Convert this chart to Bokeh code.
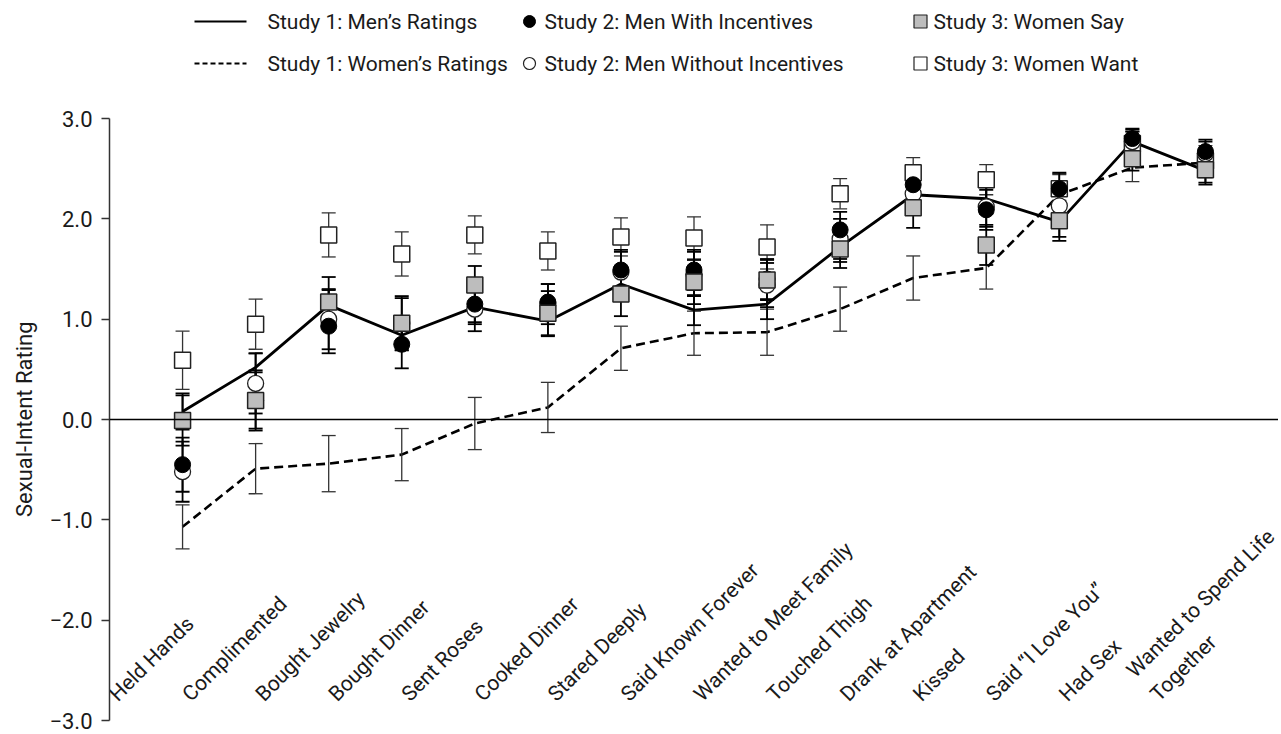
import numpy as np
from bokeh.plotting import figure
from bokeh.models import Range1d, FixedTicker, Span, ColumnDataSource, Title
from bokeh.embed import file_html
from bokeh.resources import INLINE
from bokeh.core.properties import value

# ---------------- data ----------------
categories = ["Held Hands", "Complimented", "Bought Jewelry", "Bought Dinner",
              "Sent Roses", "Cooked Dinner", "Stared Deeply", "Said Known Forever",
              "Wanted to Meet Family", "Touched Thigh", "Drank at Apartment",
              "Kissed", "Said \u201cI Love You\u201d", "Had Sex",
              "Wanted to Spend Life\nTogether"]

tick_values = [-3, -2, -1, 0, 1, 2, 3]
tick_labels = ["\u22123.0", "\u22122.0", "\u22121.0", "0.0", "1.0", "2.0", "3.0"]

men1 = [0.08, 0.52, 1.14, 0.84, 1.12, 0.98, 1.35, 1.09, 1.15, 1.72, 2.24, 2.20, 1.97, 2.77, 2.48]
men1_err = [0.18, 0.14, 0.15, 0.15, 0.15, 0.15, 0.15, 0.15, 0.15, 0.15, 0.15, 0.15, 0.15, 0.12, 0.12]

women1 = [-1.07, -0.49, -0.44, -0.35, -0.04, 0.12, 0.71, 0.86, 0.87, 1.10, 1.41, 1.51, 2.24, 2.51, 2.56]
women1_err = [0.22, 0.25, 0.28, 0.26, 0.26, 0.25, 0.22, 0.22, 0.23, 0.22, 0.22, 0.21, 0.20, 0.14, 0.15]

men2_inc = [-0.45, 0.19, 0.93, 0.75, 1.15, 1.17, 1.49, 1.49, 1.40, 1.89, 2.34, 2.09, 2.30, 2.80, 2.67]
men2_inc_err = [0.27, 0.30, 0.27, 0.24, 0.20, 0.18, 0.20, 0.20, 0.20, 0.18, 0.18, 0.20, 0.16, 0.10, 0.12]

men2_no = [-0.52, 0.36, 1.00, 0.96, 1.10, 1.15, 1.47, 1.45, 1.34, 1.80, 2.25, 2.12, 2.13, 2.77, 2.65]
men2_no_err = [0.30, 0.30, 0.30, 0.27, 0.22, 0.20, 0.20, 0.22, 0.22, 0.20, 0.18, 0.20, 0.18, 0.10, 0.12]

women3_say = [-0.01, 0.19, 1.17, 0.96, 1.34, 1.06, 1.25, 1.37, 1.39, 1.70, 2.11, 1.74, 1.98, 2.60, 2.49]
women3_say_err = [0.25, 0.28, 0.25, 0.25, 0.19, 0.22, 0.22, 0.22, 0.20, 0.19, 0.20, 0.20, 0.20, 0.12, 0.15]

women3_want = [0.59, 0.95, 1.84, 1.65, 1.84, 1.68, 1.82, 1.81, 1.72, 2.25, 2.46, 2.39, 2.30, 2.75, 2.58]
women3_want_err = [0.29, 0.25, 0.22, 0.22, 0.19, 0.19, 0.19, 0.21, 0.22, 0.15, 0.15, 0.15, 0.15, 0.12, 0.15]

legend_labels = ["Study 1: Men\u2019s Ratings", "Study 2: Men With Incentives", "Study 3: Women Say",
                 "Study 1: Women\u2019s Ratings", "Study 2: Men Without Incentives", "Study 3: Women Want"]

y_title = "Sexual-Intent Rating"

# ---------------- style ----------------
FONT = "Roboto"
FS = "21px"
GRAY = "#bdbdbd"
INK = "#1a1a1a"

FRAME_LEFT, FRAME_TOP = 108, 8      # page px of the frame's top-left corner
FRAME_W, FRAME_H = 1169, 720
X0, X1 = 0, 16
SY = 602 / 6.0                      # px per rating unit
Y1 = 3 + (118 - FRAME_TOP) / SY
Y0 = Y1 - FRAME_H / SY

p = figure(frame_width=FRAME_W, frame_height=FRAME_H,
           x_range=Range1d(X0, X1), y_range=Range1d(Y0, Y1),
           min_border_left=FRAME_LEFT, min_border_right=0,
           min_border_top=FRAME_TOP, min_border_bottom=6,
           toolbar_location=None, output_backend="svg", x_axis_location=None)
p.outline_line_color = None
p.xgrid.visible = False
p.ygrid.visible = False
p.background_fill_color = "white"

ax = p.yaxis[0]
ax.ticker = FixedTicker(ticks=tick_values)
ax.bounds = (min(tick_values), max(tick_values))
ax.major_label_overrides = dict(zip(tick_values, tick_labels))
ax.major_tick_out = 8
ax.major_tick_in = 0
ax.minor_tick_out = 0
ax.minor_tick_in = 0
ax.axis_line_width = 1.5
ax.axis_line_color = "#333333"
ax.major_tick_line_width = 1.5
ax.major_tick_line_color = "#333333"
ax.major_label_text_font = FONT
ax.major_label_text_font_size = "22px"
ax.major_label_text_color = INK
ax.major_label_standoff = 9

# axis title centred on the -3..3 axis span rather than on the whole frame
TITLE_LEN = 195                      # approx. rendered length of the title, px
axis_mid_px = 118 + 602 / 2
frame_bottom_px = FRAME_TOP + FRAME_H
p.add_layout(Title(text=y_title, align="left",
                   offset=frame_bottom_px - (axis_mid_px + TITLE_LEN / 2),
                   text_font=FONT, text_font_size="22px", text_font_style="normal",
                   text_color=INK, standoff=19), "left")

p.add_layout(Span(location=0, dimension="width", line_color="black", line_width=1.5))

xs = np.arange(1, len(categories) + 1)

# lines
p.line(xs, men1, line_color="black", line_width=2.8)
p.line(xs, women1, line_color="black", line_width=2.6, line_dash="9 5")

# error bars
def errbars(vals, errs, lw, color):
    v = np.array(vals); e = np.array(errs)
    lo, hi = v - e, v + e
    p.segment(x0=xs, y0=lo, x1=xs, y1=hi, line_color=color, line_width=lw)
    p.scatter(np.concatenate([xs, xs]), np.concatenate([lo, hi]), marker="dash",
              size=14, line_color=color, line_width=lw)

errbars(women3_want, women3_want_err, 1.3, "#333333")
errbars(women1, women1_err, 1.3, "#333333")
errbars(men2_no, men2_no_err, 1.8, "black")
errbars(men2_inc, men2_inc_err, 1.8, "black")
errbars(women3_say, women3_say_err, 1.8, "black")
errbars(men1, men1_err, 1.8, "black")

# markers
p.scatter(xs, women3_want, marker="square", size=16, fill_color="white", line_color="#222222", line_width=1.5)
p.scatter(xs, men2_no, marker="circle", size=16, fill_color="white", line_color="#222222", line_width=1.3)
p.scatter(xs, men2_inc, marker="circle", size=16, fill_color="black", line_color="black", line_width=1)
p.scatter(xs, women3_say, marker="square", size=16, fill_color=GRAY, line_color="#222222", line_width=1.5)

# category labels (rotated 45 degrees, anchored at their lower-left end)
offsets = [-61] * len(categories)
offsets[-1] = -43   # the two-line label starts further right
lab_src = ColumnDataSource(dict(x=xs, y=[-2.855] * len(categories), t=categories, dx=offsets))
p.text(x="x", y="y", text="t", source=lab_src, angle=45, angle_units="deg",
       x_offset="dx", text_align="left", text_baseline="bottom",
       text_font=value(FONT), text_font_size="21px", text_color=INK, text_line_height=1.4)

# ---------------- legend (drawn above the axis, inside the frame) ----------------
SX = FRAME_W / (X1 - X0)
def px_x(px): return X0 + (px - FRAME_LEFT) / SX
def px_y(py): return Y1 - (py - FRAME_TOP) / SY

row_y = [px_y(21), px_y(63)]
# column 1: line samples
p.line([px_x(193), px_x(245)], [row_y[0]] * 2, line_color="black", line_width=2.2)
p.line([px_x(193), px_x(245)], [row_y[1]] * 2, line_color="black", line_width=1.8, line_dash="5 3")
# column 2: circles
p.scatter([px_x(528)], [row_y[0]], marker="circle", size=12, fill_color="black", line_color="black")
p.scatter([px_x(528)], [row_y[1]], marker="circle", size=12, fill_color="white", line_color="#222222", line_width=1.2)
# column 3: squares
p.scatter([px_x(919)], [row_y[0]], marker="square", size=13, fill_color=GRAY, line_color="#222222", line_width=1.2)
p.scatter([px_x(919)], [row_y[1]], marker="square", size=13, fill_color="white", line_color="#222222", line_width=1.2)

leg_src = ColumnDataSource(dict(
    x=[px_x(266), px_x(543), px_x(932), px_x(266), px_x(543), px_x(932)],
    y=[row_y[0]] * 3 + [row_y[1]] * 3,
    t=legend_labels))
p.text(x="x", y="y", text="t", source=leg_src, text_align="left", text_baseline="middle",
       text_font=value(FONT), text_font_size=FS, text_color=INK)

open("out.html", "w").write(file_html(p, INLINE))
